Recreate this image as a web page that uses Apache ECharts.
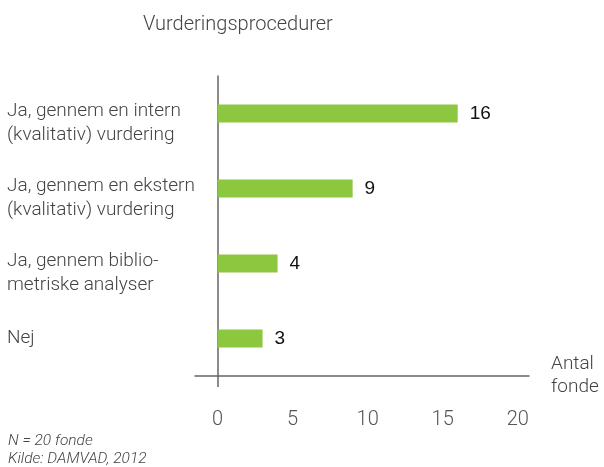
<!DOCTYPE html>
<html>
<head>
<meta charset="utf-8">
<script src="https://cdn.jsdelivr.net/npm/echarts@6/dist/echarts.min.js"></script>
<style>
  html, body { margin: 0; padding: 0; background: #fff; }
  #chart { width: 604px; height: 467px; }
</style>
</head>
<body>
<div id="chart"></div>
<script>
  var categories = [
    'Ja, gennem en intern\n(kvalitativ) vurdering',
    'Ja, gennem en ekstern\n(kvalitativ) vurdering',
    'Ja, gennem biblio-\nmetriske analyser',
    'Nej'
  ];
  var antalFonde = [16, 9, 4, 3];
  var xTicks = [0, 5, 10, 15, 20];

  var fontColor = '#444';
  var fontFamily = 'Roboto, "Liberation Sans", sans-serif';

  var myChart = echarts.init(document.getElementById('chart'));
  myChart.setOption({
    animation: false,
    textStyle: { fontFamily: fontFamily },
    title: [{
      text: 'Vurderingsprocedurer',
      left: 138,
      top: 10,
      textStyle: { color: fontColor, fontSize: 20, fontWeight: 300, fontFamily: fontFamily }
    }, {
      text: 'N = 20 fonde\nKilde: DAMVAD, 2012',
      left: 3,
      top: 427,
      textStyle: { color: fontColor, fontSize: 15.5, fontStyle: 'italic', fontWeight: 300, lineHeight: 18, fontFamily: fontFamily }
    }],
    grid: {
      left: 195,
      right: 75,
      top: 76,
      bottom: 467 - 376,
      outerBoundsMode: 'none',
      containLabel: false
    },
    xAxis: {
      type: 'value',
      min: -1.5,
      max: 20.75,
      name: 'Antal\nfonde',
      nameLocation: 'end',
      nameGap: 22,
      nameTextStyle: { color: fontColor, fontSize: 19, fontWeight: 300, align: 'left', verticalAlign: 'middle', lineHeight: 23 },
      axisLine: { show: true, lineStyle: { color: '#666', width: 1.5 } },
      axisTick: { show: true, customValues: [0], length: 11, lineStyle: { color: '#666', width: 1.5 } },
      axisLabel: { customValues: xTicks, color: '#555', fontSize: 20, fontWeight: 300, margin: 34 },
      splitLine: { show: false }
    },
    yAxis: {
      type: 'category',
      inverse: true,
      data: categories,
      axisLine: { show: true, onZero: true, lineStyle: { color: '#666', width: 1.5 } },
      axisTick: { show: false },
      axisLabel: {
        interval: 0,
        align: 'left',
        margin: 188,
        color: fontColor,
        fontSize: 19,
        fontWeight: 300,
        lineHeight: 24,
        // små tomme linjer skubber de tolinjede etiketter lidt ned
        formatter: function (v) {
          return v.indexOf('\n') >= 0 ? '{s|}\n' + v : v;
        },
        rich: { s: { lineHeight: 20, fontSize: 1 } }
      }
    },
    series: [{
      type: 'bar',
      data: antalFonde,
      barWidth: 18,
      itemStyle: { color: '#8dc63f' },
      label: {
        show: true,
        position: 'right',
        distance: 12,
        color: '#111',
        fontSize: 19,
        fontFamily: '"Liberation Sans", Arial, sans-serif'
      }
    }]
  });
</script>
</body>
</html>
